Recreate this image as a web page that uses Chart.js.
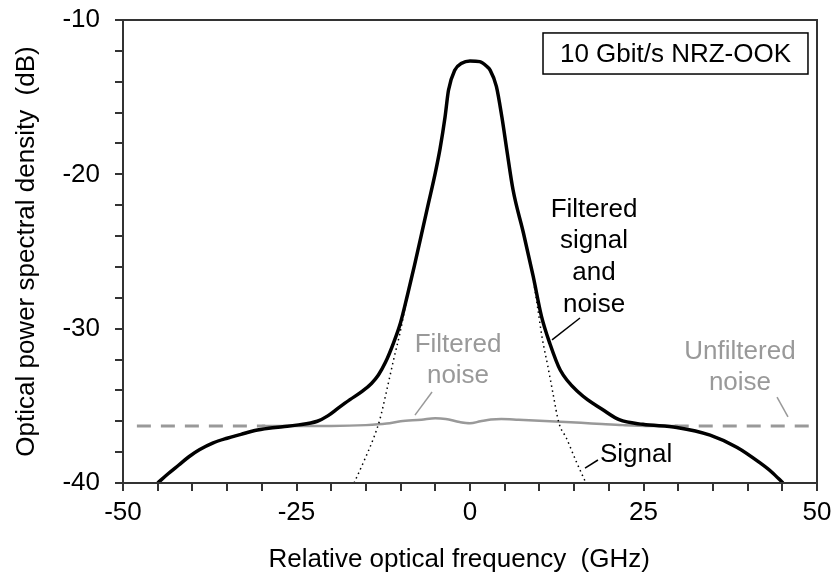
<!DOCTYPE html>
<html>
<head>
<meta charset="utf-8">
<script src="https://cdn.jsdelivr.net/npm/chart.js@4.4.1/dist/chart.umd.min.js"></script>
<style>
    html, body { margin: 0; padding: 0; background: #fff; }
    #wrap { width: 834px; height: 573px; }
</style>
</head>
<body>
<div id="wrap"><canvas id="myChart"></canvas></div>
<script>
// Filtered signal and noise (black solid)
const totalFreq = [-45, -43.5, -42, -40.5, -39, -37, -35, -33, -31, -29, -27, -25, -22, -20.5, -19, -17.3, -15.5, -14.2, -13.2, -12.2, -11, -10, -9, -8, -7, -6, -5, -4.3, -3.6, -3.1, -2.2, -1.2, 0, 1.4, 2.4, 2.9, 3.8, 4.6, 5.3, 6.2, 7.7, 9.1, 10.3, 11.5, 13.0, 15.8, 19.2, 21.5, 24.9, 29.8, 34.6, 38.5, 41.8, 43.5, 45.1];
const totalPsd  = [-40, -39.4, -38.85, -38.3, -37.85, -37.4, -37.1, -36.85, -36.6, -36.45, -36.35, -36.25, -36.0, -35.65, -35.15, -34.6, -34.05, -33.55, -33.0, -32.2, -30.9, -29.6, -27.8, -25.9, -23.9, -21.9, -19.9, -18.3, -16.3, -14.55, -13.25, -12.8, -12.65, -12.7, -13.0, -13.25, -14.3, -16.3, -18.4, -21.0, -23.8, -26.6, -29.2, -30.95, -32.68, -34.19, -35.27, -35.9, -36.2, -36.4, -36.9, -37.7, -38.7, -39.3, -40];

// Signal (black dotted)
const signalFreq = [-16.7, -15.3, -13.9, -13.0, -12.0, -11.0, -10.1, -9.2, -8.5, -8, -7, -6, -5, -4.3, -3.6, -3.1, -2.2, -1.2, 0, 1.4, 2.4, 2.9, 3.8, 4.6, 5.3, 6.2, 7.7, 9.1, 9.7, 10.4, 11.2, 12.0, 12.8, 13.9, 15.3, 16.7];
const signalPsd  = [-40, -38.6, -37.1, -35.9, -34.0, -32.0, -30.3, -28.3, -26.9, -25.9, -23.9, -21.9, -19.9, -18.3, -16.3, -14.55, -13.25, -12.8, -12.65, -12.7, -13.0, -13.25, -14.3, -16.3, -18.4, -21.0, -23.8, -26.8, -28.5, -30.6, -32.4, -34.3, -36.1, -37.1, -38.6, -40];

// Filtered noise (grey solid)
const noiseFreq = [-30, -25, -20, -15, -12, -10, -7, -5, -3.5, -1.5, 0, 1.5, 3, 4.5, 7, 10, 13, 16, 19, 22, 26, 30];
const noisePsd  = [-36.3, -36.3, -36.3, -36.25, -36.15, -36.0, -35.9, -35.8, -35.85, -36.05, -36.13, -36.0, -35.88, -35.85, -35.9, -35.97, -36.03, -36.1, -36.18, -36.25, -36.3, -36.3];

// Unfiltered noise (grey dashed), hidden under the filtered noise in the middle
const unfiltFreq = [-48, -29.5, null, 29.5, 49];
const unfiltPsd  = [-36.3, -36.3, null, -36.3, -36.3];

const xTicks = [-50, -25, 0, 25, 50];
const yTicks = [-40, -30, -20, -10];

const GREY = '#999999';
const FONT = "'Liberation Sans', Arial, sans-serif";

function toPoints(xs, ys) {
    return xs.map((x, i) => ({x: x === null ? NaN : x, y: ys[i]}));
}

// texts and leader lines placed in data coordinates
const notes = [
    {text: 'Filtered', x: 17.87, y: -22.77, color: '#000'},
    {text: 'signal',   x: 17.87, y: -24.78, color: '#000'},
    {text: 'and',      x: 17.87, y: -26.85, color: '#000'},
    {text: 'noise',    x: 17.87, y: -28.92, color: '#000'},
    {text: 'Filtered', x: -1.73, y: -31.51, color: GREY},
    {text: 'noise',    x: -1.73, y: -33.52, color: GREY},
    {text: 'Unfiltered', x: 38.9, y: -31.97, color: GREY},
    {text: 'noise',      x: 38.9, y: -33.97, color: GREY},
    {text: 'Signal', x: 18.73, y: -38.64, color: '#000', align: 'left'}
];
const leaders = [
    {x1: 15.85, y1: -29.31, x2: 11.82, y2: -30.73, color: '#000'},
    {x1: -5.47, y1: -34.1, x2: -7.93, y2: -35.6, color: GREY},
    {x1: 44.24, y1: -34.43, x2: 45.82, y2: -35.72, color: GREY},
    {x1: 18.44, y1: -38.51, x2: 16.57, y2: -39.03, color: '#000'}
];
const legendBox = {x1: 10.52, y1: -10.84, x2: 48.7, y2: -13.5, text: '10 Gbit/s NRZ-OOK'};

const notesPlugin = {
    id: 'notes',
    afterDatasetsDraw(chart) {
        const {ctx, chartArea, scales: {x, y}} = chart;
        ctx.save();
        // frame round the plot
        ctx.strokeStyle = '#333';
        ctx.lineWidth = 2;
        ctx.strokeRect(chartArea.left, chartArea.top, chartArea.right - chartArea.left, chartArea.bottom - chartArea.top);

        // boxed label
        const bx1 = x.getPixelForValue(legendBox.x1), bx2 = x.getPixelForValue(legendBox.x2);
        const by1 = y.getPixelForValue(legendBox.y1), by2 = y.getPixelForValue(legendBox.y2);
        ctx.lineWidth = 1.5;
        ctx.strokeStyle = '#000';
        ctx.strokeRect(bx1, by1, bx2 - bx1, by2 - by1);
        ctx.font = '26px ' + FONT;
        ctx.fillStyle = '#000';
        ctx.textAlign = 'center';
        ctx.textBaseline = 'middle';
        ctx.fillText(legendBox.text, (bx1 + bx2) / 2, (by1 + by2) / 2 + 1);

        ctx.textBaseline = 'alphabetic';
        notes.forEach(n => {
            ctx.fillStyle = n.color;
            ctx.textAlign = n.align || 'center';
            ctx.fillText(n.text, x.getPixelForValue(n.x), y.getPixelForValue(n.y));
        });

        ctx.lineWidth = 1.5;
        leaders.forEach(l => {
            ctx.strokeStyle = l.color;
            ctx.beginPath();
            ctx.moveTo(x.getPixelForValue(l.x1), y.getPixelForValue(l.y1));
            ctx.lineTo(x.getPixelForValue(l.x2), y.getPixelForValue(l.y2));
            ctx.stroke();
        });
        ctx.restore();
    }
};

const ctx = document.getElementById('myChart');
const myChart = new Chart(ctx, {
    type: 'line',
    data: {
        datasets: [{
            label: 'Filtered signal and noise',
            data: toPoints(totalFreq, totalPsd),
            borderColor: '#000',
            borderWidth: 3.5,
            cubicInterpolationMode: 'monotone',
            pointRadius: 0
        },
        {
            label: 'Signal',
            data: toPoints(signalFreq, signalPsd),
            borderColor: '#000',
            borderWidth: 1.5,
            borderDash: [1.5, 3.5],
            cubicInterpolationMode: 'monotone',
            pointRadius: 0
        },
        {
            label: 'Filtered noise',
            data: toPoints(noiseFreq, noisePsd),
            borderColor: GREY,
            borderWidth: 2.5,
            cubicInterpolationMode: 'monotone',
            pointRadius: 0
        },
        {
            label: 'Unfiltered noise',
            data: toPoints(unfiltFreq, unfiltPsd),
            borderColor: GREY,
            borderWidth: 3,
            borderDash: [14, 10],
            spanGaps: false,
            pointRadius: 0
        }]
    },
    options: {
        responsive: true,
        maintainAspectRatio: false,
        animation: false,
        layout: {
            padding: {left: 0, right: 17, top: 20, bottom: 0}
        },
        scales: {
            x: {
                type: 'linear',
                min: -50,
                max: 50,
                afterFit(scale) { scale.height = 90; },
                ticks: {
                    stepSize: 5,
                    autoSkip: false,
                    maxRotation: 0,
                    padding: 0,
                    color: '#000',
                    font: {family: FONT, size: 26, lineHeight: 1.69},
                    callback: v => xTicks.includes(v) ? String(v) : ''
                },
                grid: {
                    drawOnChartArea: false,
                    drawTicks: true,
                    tickLength: 8,
                    color: '#333',
                    lineWidth: 2
                },
                border: {color: '#333', width: 2},
                title: {
                    display: true,
                    text: 'Relative optical frequency  (GHz)   ',
                    color: '#000',
                    font: {family: FONT, size: 26, lineHeight: 1},
                    padding: 0
                }
            },
            y: {
                type: 'linear',
                min: -40,
                max: -10,
                afterFit(scale) { scale.width = 123; },
                ticks: {
                    stepSize: 2,
                    autoSkip: false,
                    padding: 15,
                    color: '#000',
                    font: {family: FONT, size: 26, lineHeight: 0.3},
                    callback: v => yTicks.includes(v) ? String(v) : ''
                },
                grid: {
                    drawOnChartArea: false,
                    drawTicks: true,
                    tickLength: 8,
                    color: '#333',
                    lineWidth: 2
                },
                border: {color: '#333', width: 2},
                title: {
                    display: true,
                    text: 'Optical power spectral density  (dB)',
                    color: '#000',
                    font: {family: FONT, size: 26, lineHeight: 1},
                    padding: {top: 14, bottom: 0}
                }
            }
        },
        plugins: {
            legend: {display: false},
            tooltip: {enabled: false}
        }
    },
    plugins: [notesPlugin]
});
</script>
</body>
</html>
